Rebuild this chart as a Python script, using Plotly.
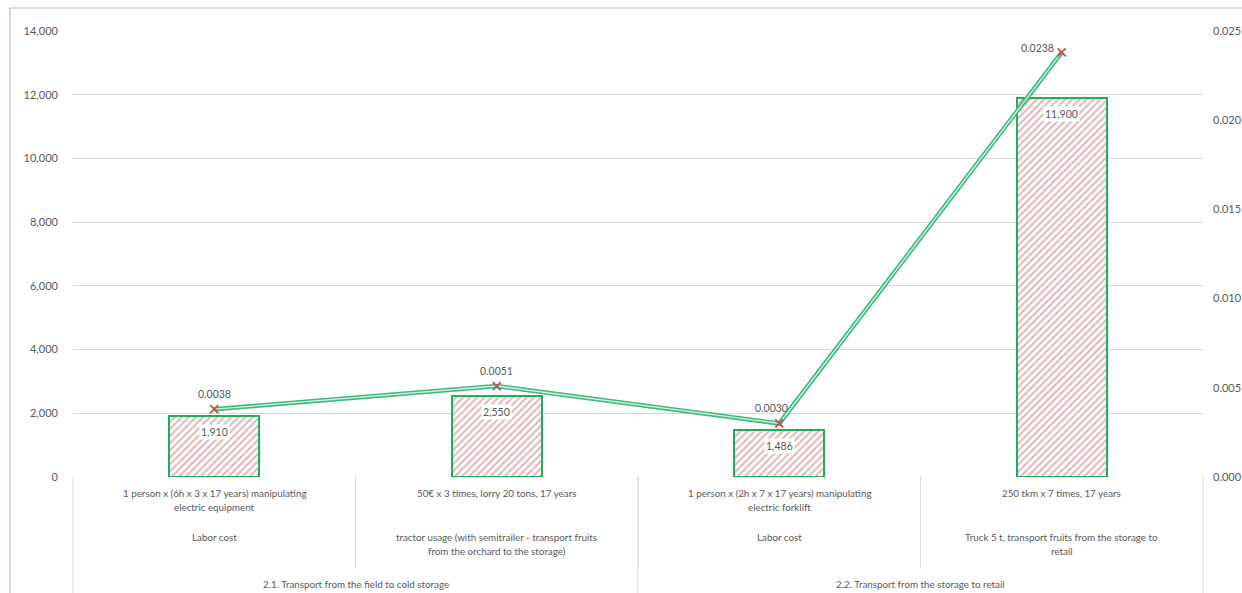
import plotly.graph_objects as go

# Cost items (one bar per item)
item_details = [
    "1 person x (6h x 3 x 17 years) manipulating<br>electric equipment",
    "50€ x 3 times, lorry 20 tons, 17 years",
    "1 person x (2h x 7 x 17 years) manipulating<br>electric forklift",
    "250 tkm x 7 times, 17 years",
]
item_types = [
    "Labor cost",
    "tractor usage (with semitrailer - transport fruits<br>from the orchard to the storage)",
    "Labor cost",
    "Truck 5 t, transport fruits from the storage to<br>retail",
]
groups = [
    "2.1. Transport from the field to cold storage",
    "2.2. Transport from the storage to retail",
]
group_sizes = [2, 2]

cost_values = [1910, 2550, 1486, 11900]
ratio_values = [0.0038, 0.0051, 0.0030, 0.0238]

left_ticks = [0, 2000, 4000, 6000, 8000, 10000, 12000, 14000]
right_ticks = [0.000, 0.005, 0.010, 0.015, 0.020, 0.025]

TEXT = "#595959"
GRID = "#d9d9d9"
FONT = "Lato"
n = len(cost_values)
xs = list(range(n))

fig = go.Figure()

fig.add_trace(go.Bar(
    x=xs, y=cost_values, width=0.32,
    marker=dict(
        color="white",
        line=dict(color="#1fae5a", width=2),
        pattern=dict(shape="/", fgcolor="#c96565", bgcolor="white",
                     size=5, solidity=0.4),
    ),
    hoverinfo="skip", showlegend=False,
))

# double-stroke line on the secondary axis
fig.add_trace(go.Scatter(
    x=xs, y=ratio_values, yaxis="y2", mode="lines",
    line=dict(color="#3dbb7f", width=4.5),
    hoverinfo="skip", showlegend=False,
))
fig.add_trace(go.Scatter(
    x=xs, y=ratio_values, yaxis="y2", mode="lines+markers",
    line=dict(color="#d3f2e2", width=1.3),
    marker=dict(symbol="x-thin", size=8, color="#c0504d",
                line=dict(color="#c0504d", width=1.8)),
    hoverinfo="skip", showlegend=False,
))

annotations = []
# bar value labels
for x, v in zip(xs, cost_values):
    annotations.append(dict(
        x=x, y=v, xref="x", yref="y", text=f"{v:,}", showarrow=False,
        yshift=-16, bgcolor="white", borderpad=1,
        font=dict(family=FONT, size=10.5, color=TEXT),
    ))
# line value labels
for x, v in zip(xs, ratio_values):
    last = x == n - 1
    annotations.append(dict(
        x=x, y=v, xref="x", yref="y2", text=f"{v:.4f}", showarrow=False,
        xshift=-24 if last else (-8 if x == 2 else 0), yshift=4 if last else 15,
        font=dict(family=FONT, size=10.5, color=TEXT),
    ))

# multi-level category labels below the plot
def add_lines(x, text, top_px):
    for k, line in enumerate(text.split("<br>")):
        annotations.append(dict(
            x=x, y=0, xref="x", yref="paper", yanchor="middle",
            text=line, showarrow=False, yshift=-(top_px + 14 * k),
            font=dict(family=FONT, size=9.8, color=TEXT),
        ))

for x, t in zip(xs, item_details):
    add_lines(x, t, 16)
for x, t in zip(xs, item_types):
    add_lines(x, t, 60)
start = 0
for g, size in zip(groups, group_sizes):
    add_lines(start + (size - 1) / 2, g, 107)
    start += size

shapes = []
span = n  # x range runs from -0.5 to n-0.5 over paper 0..1
# item dividers (inner levels)
for i in range(1, n):
    shapes.append(dict(type="line", xref="paper", yref="paper",
                       x0=i / span, x1=i / span, y0=0, y1=-0.205,
                       line=dict(color=GRID, width=1)))
# group dividers (full height)
start = 0
bounds = [0]
for size in group_sizes:
    start += size
    bounds.append(start)
for b in bounds:
    shapes.append(dict(type="line", xref="paper", yref="paper",
                       x0=b / span, x1=b / span, y0=0, y1=-0.27,
                       line=dict(color=GRID, width=1)))
# chart frame
shapes.append(dict(type="rect", xref="paper", yref="paper",
                   x0=-0.0558, x1=1.2, y0=-0.4, y1=1.0516,
                   line=dict(color="#a9c4e4", width=1.2)))

fig.update_layout(
    width=1242, height=593,
    margin=dict(l=73, r=39, t=31, b=116, autoexpand=False),
    paper_bgcolor="white", plot_bgcolor="white",
    bargap=0,
    xaxis=dict(range=[-0.5, n - 0.5], showticklabels=False, showgrid=False,
               zeroline=False, showline=False, fixedrange=True,
               automargin=False),
    yaxis=dict(range=[0, 14000], tickvals=left_ticks, tickformat=",",
               showgrid=True, gridcolor=GRID, gridwidth=1, zeroline=False,
               showline=False, ticks="", ticklabelstandoff=14,
               automargin=False,
               tickfont=dict(family=FONT, size=11, color=TEXT)),
    yaxis2=dict(range=[0, 0.025], tickvals=right_ticks, tickformat=".3f",
                overlaying="y", side="right", showgrid=False, zeroline=False,
                showline=False, ticks="", ticklabelstandoff=9,
                automargin=False,
                tickfont=dict(family=FONT, size=11, color=TEXT)),
    annotations=annotations,
    shapes=shapes,
)

fig.write_html("out.html")
